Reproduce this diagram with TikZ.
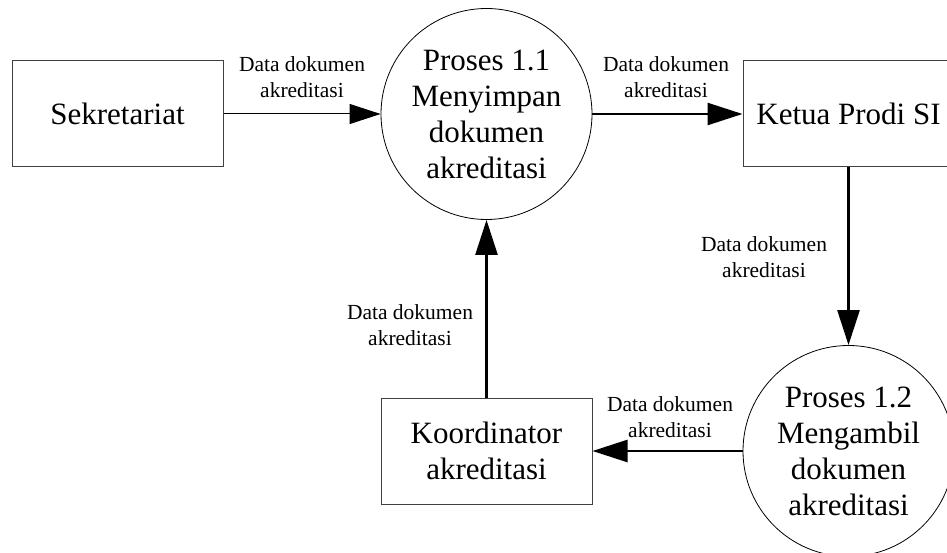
\documentclass[tikz,border=0pt]{standalone}
\usepackage{fontspec}
\setmainfont{Liberation Serif}
\usetikzlibrary{arrows.meta, shapes}

\begin{document}
\begin{tikzpicture}[x=1pt, y=-1pt,
  entity/.style={rectangle, draw=black!75, line width=1pt, minimum width=211pt, minimum height=106pt, font=\fontsize{31}{36}\selectfont, align=center},
  proc/.style={circle, draw, line width=0.8pt, minimum size=211pt, inner sep=0pt, font=\fontsize{31}{36}\selectfont, align=center},
  flow/.style={-{Triangle[length=35pt, width=22pt]}, line width=2.5pt},
  thinflow/.style={-{Triangle[length=31pt, width=20pt]}, line width=1pt},
  lbl/.style={font=\fontsize{21.5}{26}\selectfont, align=center, inner sep=0pt}]
\clip (0,0) rectangle (947,553);

\node[entity] (S) at (117.5,114) {Sekretariat};
\node[proc]   (P1) at (486.5,114) {Proses 1.1\\Menyimpan\\dokumen\\akreditasi};
\node[entity] (K) at (848.5,114) {Ketua Prodi SI};
\node[proc]   (P2) at (848.5,451) {Proses 1.2\\Mengambil\\dokumen\\akreditasi};
\node[entity] (KA) at (486.5,451) {Koordinator\\akreditasi};

\draw[thinflow] (S) -- (P1);
\draw[flow] (P1) -- (K);
\draw[flow] (K) -- (P2);
\draw[flow] (P2) -- (KA);
\draw[flow] (KA) -- (P1);

\node[lbl] (L1) at (302,77)  {Data dokumen\\akreditasi};
\node[lbl] (L2) at (666,77)  {Data dokumen\\akreditasi};
\node[lbl] (L3) at (764,257) {Data dokumen\\akreditasi};
\node[lbl] (L4) at (410,325) {Data dokumen\\akreditasi};
\node[lbl] (L5) at (670,417) {Data dokumen\\akreditasi};
\end{tikzpicture}
\end{document}
